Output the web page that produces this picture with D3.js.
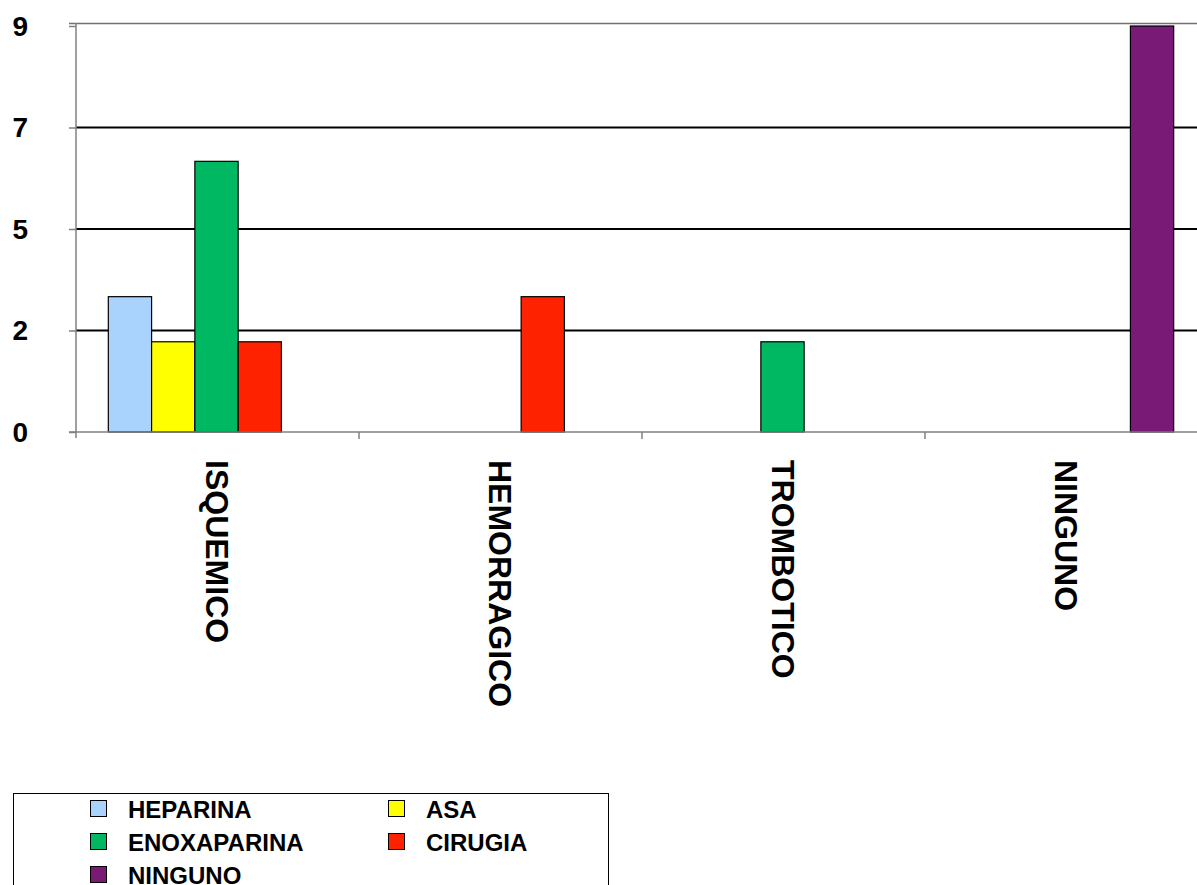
<!DOCTYPE html>
<html>
<head>
<meta charset="utf-8">
<script src="https://cdn.jsdelivr.net/npm/d3@7"></script>
<style>
  html, body { margin: 0; padding: 0; background: #fff; }
  svg { display: block; font-family: "Liberation Sans", Arial, Helvetica, sans-serif; font-weight: bold; }
</style>
</head>
<body>
<svg id="chart" width="1197" height="885"></svg>
<script>
const categories = ["ISQUEMICO", "HEMORRAGICO", "TROMBOTICO", "NINGUNO"];
const seriesNames = ["HEPARINA", "ASA", "ENOXAPARINA", "CIRUGIA", "NINGUNO"];
const seriesColors = ["#a9d3fd", "#ffff00", "#00b862", "#ff2200", "#7a1a77"];
const heparina    = [3, 0, 0, 0];
const asa         = [2, 0, 0, 0];
const enoxaparina = [6, 0, 2, 0];
const cirugia     = [2, 3, 0, 0];
const ninguno     = [0, 0, 0, 9];
const seriesValues = [heparina, asa, enoxaparina, cirugia, ninguno];
const tickValues = [0, 2.25, 4.5, 6.75, 9];
const tickLabels = ["0", "2", "5", "7", "9"];

const svg = d3.select("#chart");
const pLeft = 76, pRight = 1208, pTop = 26, pBottom = 432;

const x0 = d3.scaleBand().domain(categories).range([pLeft, pRight]).paddingInner(0).paddingOuter(0);
const x1 = d3.scaleBand().domain(seriesNames).range([-1, x0.bandwidth() - 1]).paddingInner(0).paddingOuter(0.77);
const y = d3.scaleLinear().domain([0, 9]).range([pBottom, pTop]);

// gridlines
svg.append("g").selectAll("line").data(tickValues.filter(v => v > 0 && v < 9)).join("line")
  .attr("x1", pLeft).attr("x2", 1197)
  .attr("y1", d => y(d)).attr("y2", d => y(d))
  .attr("stroke", "#000").attr("stroke-width", 2);

// plot top border
svg.append("line").attr("x1", pLeft - 7).attr("x2", 1197)
  .attr("y1", y(9) - 2.5).attr("y2", y(9) - 2.5)
  .attr("stroke", "#707070").attr("stroke-width", 1.5);

// bars
const flat = [];
categories.forEach((c, ci) => {
  seriesNames.forEach((s, si) => {
    if (seriesValues[si][ci] > 0) flat.push({c, s, v: seriesValues[si][ci], color: seriesColors[si]});
  });
});
svg.append("g").selectAll("rect").data(flat).join("rect")
  .attr("x", d => x0(d.c) + x1(d.s))
  .attr("width", x1.bandwidth())
  .attr("y", d => y(d.v))
  .attr("height", d => y(0) - y(d.v))
  .attr("fill", d => d.color)
  .attr("stroke", "#000").attr("stroke-width", 1.2);

// y axis
const yAxis = d3.axisLeft(y).tickValues(tickValues).tickSize(7)
  .tickFormat((d, i) => tickLabels[i]);
const gy = svg.append("g").attr("transform", `translate(${pLeft},0)`).call(yAxis);
gy.select(".domain").attr("stroke", "#808080").attr("stroke-width", 1.5)
  .attr("d", `M0,${y(9) - 3}V${pBottom + 6}`);
gy.selectAll(".tick line").attr("stroke", "#808080").attr("stroke-width", 1.5);
gy.selectAll(".tick text").attr("x", -48).attr("text-anchor", "end")
  .attr("dy", "0.33em")
  .style("font-size", "28px").style("font-weight", "bold")
  .style("font-family", "'Liberation Sans', Arial, sans-serif").attr("fill", "#000");

// x axis
const xAxis = d3.axisBottom(x0).tickSize(0).tickFormat("");
const gx = svg.append("g").attr("transform", `translate(0,${pBottom})`).call(xAxis);
gx.select(".domain").attr("stroke", "#808080").attr("stroke-width", 1.5)
  .attr("d", `M${pLeft - 7},0H1197`);
gx.selectAll(".tick").remove();
// category boundary ticks
svg.append("g").selectAll("line").data(categories.slice(1)).join("line")
  .attr("x1", d => x0(d)).attr("x2", d => x0(d))
  .attr("y1", pBottom).attr("y2", pBottom + 7)
  .attr("stroke", "#808080").attr("stroke-width", 1.5);

// x labels (rotated)
svg.append("g").selectAll("text").data(categories).join("text")
  .attr("transform", d => `translate(${x0(d) + x0.bandwidth() / 2},460) rotate(90)`)
  .attr("text-anchor", "start").attr("dy", "0.35em")
  .style("font-size", "32px").attr("fill", "#000")
  .text(d => d);

// legend
const lg = svg.append("g");
lg.append("rect").attr("x", 13.5).attr("y", 793.5).attr("width", 595).attr("height", 120)
  .attr("fill", "#fff").attr("stroke", "#000").attr("stroke-width", 1);
const colX = [90, 388];
seriesNames.forEach((s, i) => {
  const col = i % 2, row = Math.floor(i / 2);
  const lx = colX[col], ly = 800 + row * 33;
  lg.append("rect").attr("x", lx + 0.5).attr("y", ly + 0.5).attr("width", 16).attr("height", 16)
    .attr("fill", seriesColors[i]).attr("stroke", "#000").attr("stroke-width", 1);
  lg.append("text").attr("x", lx + 38).attr("y", ly + 17.5)
    .style("font-size", "24px").attr("fill", "#000").text(s);
});
</script>
</body>
</html>
